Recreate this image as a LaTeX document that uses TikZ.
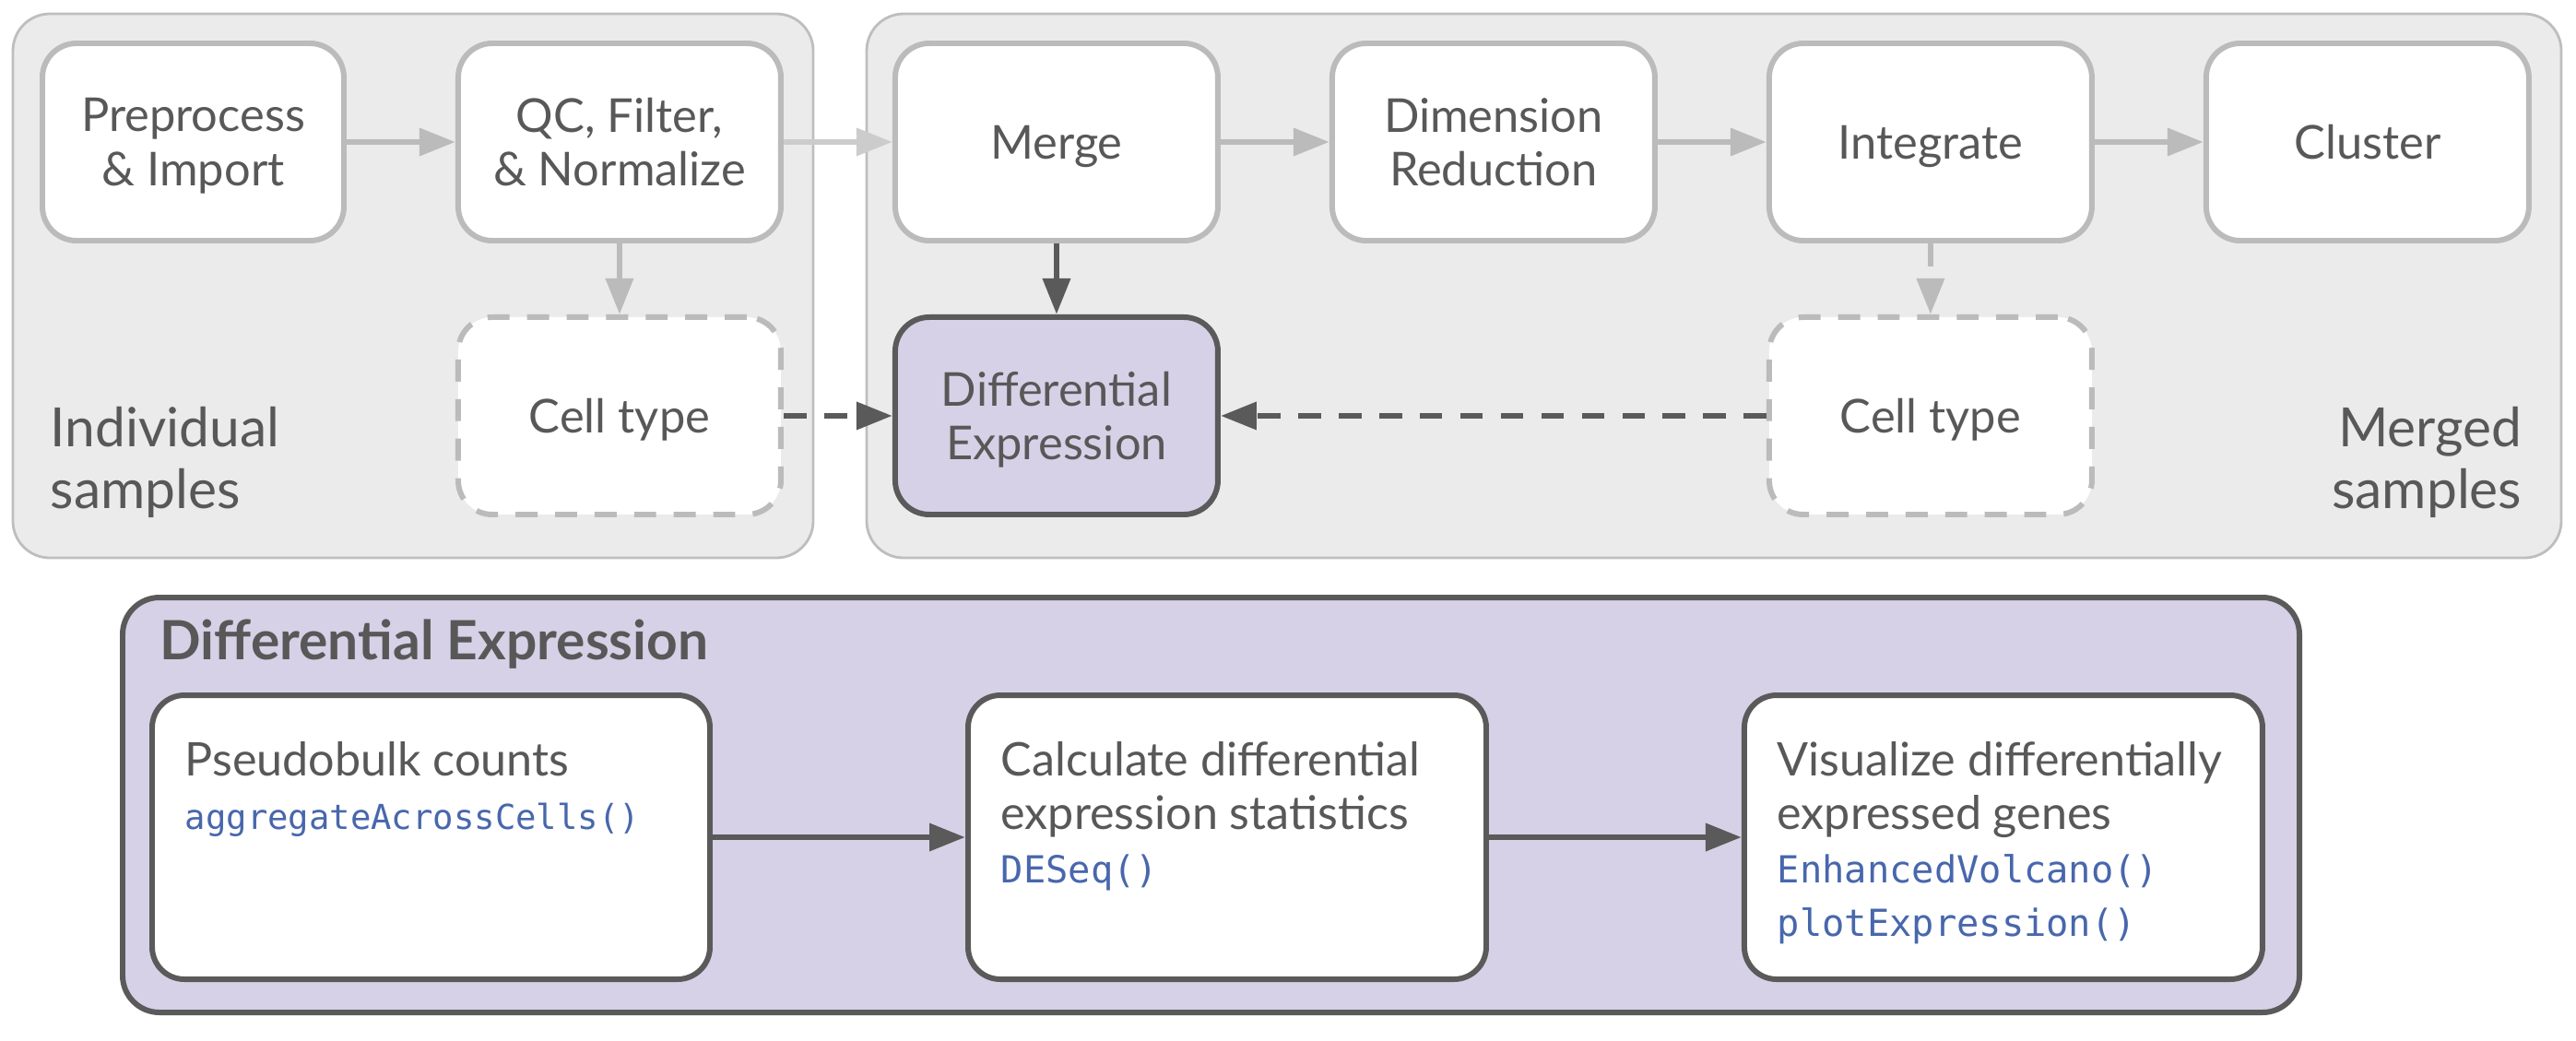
\documentclass[tikz,border=0pt]{standalone}
\usepackage{fontspec}
\setmainfont{Lato}
\newfontfamily\codefont{DejaVu Sans Mono}
\usepackage{tikz}
\usetikzlibrary{arrows.meta, positioning}

\definecolor{panelgray}{RGB}{235,235,235}
\definecolor{panelline}{RGB}{190,190,190}
\definecolor{lightline}{RGB}{187,187,187}
\definecolor{paleline}{RGB}{204,204,204}
\definecolor{darkline}{RGB}{90,90,90}
\definecolor{textgray}{RGB}{88,88,88}
\definecolor{defill}{RGB}{214,209,230}
\definecolor{codeblue}{RGB}{72,103,172}

\newcommand{\code}[2][11.5]{{\codefont\fontsize{#1}{16.5}\selectfont\color{codeblue}#2}}

\begin{document}
\begin{tikzpicture}[
    node distance=1.18cm,
    every node/.style={text=textgray},
    panel/.style={draw=panelline, fill=panelgray, line width=0.8pt, rounded corners=0.4cm},
    stagebox/.style={draw=lightline, line width=1.7pt, fill=white, rounded corners=0.37cm, minimum width=3.5cm, minimum height=2.14cm, align=center, text depth=0pt, font=\fontsize{14.4}{16.6}\selectfont},
    cellbox/.style={stagebox, dash pattern=on 6.8pt off 5.4pt},
    debox/.style={stagebox, draw=darkline, fill=defill},
    stepbox/.style={draw=darkline, line width=1.7pt, fill=white, rounded corners=0.35cm, minimum width=5.62cm, minimum height=3.08cm},
    steptext/.style={anchor=north west, align=left, inner sep=0pt, font=\fontsize{14.3}{16.5}\selectfont},
    grouplabel/.style={inner sep=0pt, font=\fontsize{16.7}{19}\selectfont},
    flow/.style={-{Triangle[length=3.9mm, width=2.9mm]}, line width=1.9pt, lightline},
    darkflow/.style={flow, darkline},
    dashflow/.style={darkflow, dash pattern=on 7pt off 5.5pt}
]
    \useasboundingbox (0,0) rectangle (27.94,-11.28);

    % Panels
    \draw[panel] (0.14,-0.15) rectangle (8.82,-6.05);
    \draw[panel] (9.40,-0.15) rectangle (27.78,-6.05);
    \draw[panel, draw=darkline, fill=defill, line width=1.7pt] (1.33,-6.48) rectangle (24.94,-10.98);

    \node[grouplabel, anchor=north west, align=left] (indiv) at (0.54,-4.41) {Individual\\samples};
    \node[grouplabel, anchor=north east, align=right] (merged) at (27.36,-4.41) {Merged\\samples};
    \node[anchor=base west, inner sep=0pt, font=\fontsize{16.7}{19}\selectfont\bfseries] (detitle) at (1.73,-7.15) {Differential Expression};

    % Nodes
    \node[stagebox, minimum width=3.27cm] (prep) at (2.095,-1.54) {Preprocess\\\& Import};
    \node[stagebox, right=of prep] (qc) {QC, Filter,\\\& Normalize};
    \node[stagebox, right=of qc] (merge) {Merge};
    \node[stagebox, right=of merge] (dimred) {Dimension\\Reduction};
    \node[stagebox, right=of dimred] (integ) {Integrate};
    \node[stagebox, right=of integ] (clust) {Cluster};

    \node[cellbox, below=0.77cm of qc] (cellL) {Cell type};
    \node[debox, below=0.77cm of merge] (diffexp) {Differential\\Expression};
    \node[cellbox, below=0.77cm of integ] (cellR) {Cell type};

    \node[stepbox, minimum width=6.05cm] (pseudo) at (4.675,-9.08) {};
    \node[stepbox, right=2.74cm of pseudo] (stats) {};
    \node[stepbox, right=2.74cm of stats] (visual) {};

    \node[steptext] (pseudotxt) at ([shift={(0.38,-0.53)}]pseudo.north west) {Pseudobulk counts\\\code[10.6]{aggregateAcrossCells()}};
    \node[steptext] (statstxt) at ([shift={(0.38,-0.53)}]stats.north west) {Calculate differential\\expression statistics\\\code{DESeq()}};
    \node[steptext] (visualtxt) at ([shift={(0.38,-0.53)}]visual.north west) {Visualize differentially\\expressed genes\\\code{EnhancedVolcano()}\\\code{plotExpression()}};

    % Arrows
    \draw[flow] (prep) -- (qc);
    \draw[flow, paleline] (qc) -- (merge);
    \draw[flow] (merge) -- (dimred);
    \draw[flow] (dimred) -- (integ);
    \draw[flow] (integ) -- (clust);
    \draw[flow] (qc) -- (cellL);
    \draw[flow, dash pattern=on 7pt off 5.5pt] (integ) -- (cellR);
    \draw[darkflow] (merge) -- (diffexp);
    \draw[dashflow] (cellL) -- (diffexp);
    \draw[dashflow] (cellR) -- (diffexp);
    \draw[darkflow] (pseudo) -- (stats);
    \draw[darkflow] (stats) -- (visual);
\end{tikzpicture}
\end{document}
